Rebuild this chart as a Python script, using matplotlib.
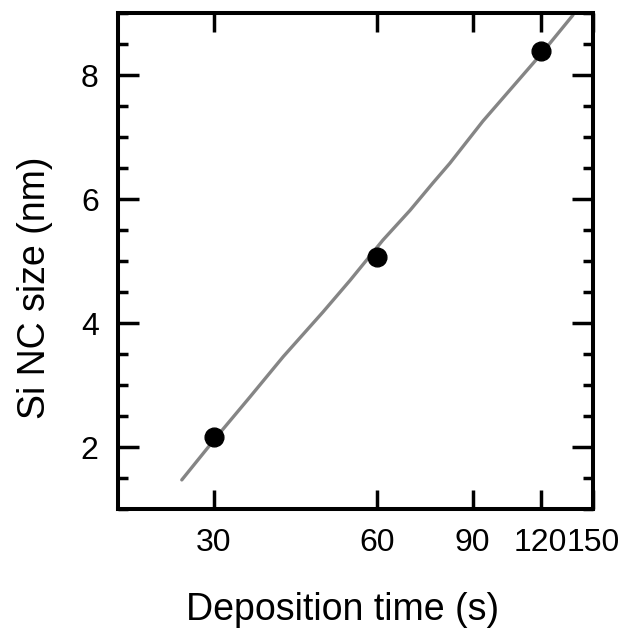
import numpy as np
import matplotlib.pyplot as plt
from matplotlib.ticker import FixedLocator, NullLocator, MultipleLocator

plt.rcParams['font.family'] = ['Liberation Sans', 'DejaVu Sans']

# measured Si NC sizes
dep_time = [30, 60, 120]
nc_size = [2.16, 5.06, 8.39]

# fitted curve
fit_time = [26.2, 30.4, 35.0, 40.3, 47.7, 53.5, 61.5, 69.0, 76.0, 81.7, 94.0, 120.0, 137.7]
fit_size = [1.47, 2.17, 2.81, 3.46, 4.18, 4.69, 5.34, 5.82, 6.26, 6.58, 7.26, 8.33, 8.97]

xticks = [30, 60, 90, 120, 150]

fig = plt.figure(figsize=(6.25, 6.3), dpi=100)
ax = fig.add_axes([0.189, 0.192, 0.760, 0.787])

ax.plot(fit_time, fit_size, color='#858585', lw=2.4, solid_capstyle='round', zorder=2)
ax.plot(dep_time, nc_size, 'o', color='black', ms=13.5, zorder=3)

ax.set_xscale('log')
ax.set_xlim(20, 150)
ax.set_ylim(1, 9)
ax.xaxis.set_major_locator(FixedLocator(xticks))
ax.xaxis.set_minor_locator(NullLocator())
ax.set_xticklabels([str(t) for t in xticks])
ax.yaxis.set_major_locator(FixedLocator([2, 4, 6, 8]))
ax.yaxis.set_minor_locator(MultipleLocator(0.5))

for s in ax.spines.values():
    s.set_linewidth(2.9)
ax.tick_params(which='both', direction='in', top=True, right=True, width=2.5, labelsize=23)
ax.tick_params(axis='x', which='major', length=14, pad=14)
ax.tick_params(axis='y', which='major', length=15, pad=14)
ax.tick_params(which='minor', length=7)

ax.set_xlabel('Deposition time (s)', fontsize=27, va='baseline')
ax.xaxis.set_label_coords(0.472, -0.224)
ax.set_ylabel('Si NC size (nm)', fontsize=27, va='top')
ax.yaxis.set_label_coords(-0.213, 0.446)

fig.savefig('out.png', dpi=100)
